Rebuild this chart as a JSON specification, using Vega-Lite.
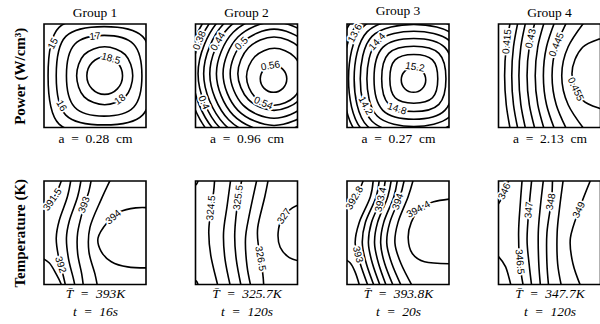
{
  "$schema": "https://vega.github.io/schema/vega-lite/v6.json",
  "padding": {"left": 11, "top": 3, "right": 0, "bottom": 0},
  "config": {
    "view": {"stroke": "black", "strokeWidth": 1.6},
    "axis": {"labels": false, "ticks": false, "domain": false, "grid": false, "titleFont": "Liberation Serif", "titleFontSize": 13.5, "titleFontWeight": "normal", "titleColor": "black", "titlePadding": 4},
    "title": {"font": "Liberation Serif", "fontSize": 13.5, "fontWeight": "normal", "color": "black", "offset": 4.5},
    "text": {"font": "Liberation Sans", "fontSize": 10, "align": "center", "baseline": "middle"},
    "line": {"color": "black", "strokeWidth": 1.6}
  },
  "datasets": {
    "c": [
      {"p":"a1","k":"18.5","s":"r","i":0,"x":0.77,"y":0.5},{"p":"a1","k":"18.5","s":"r","i":1,"x":0.719,"y":0.627},{"p":"a1","k":"18.5","s":"r","i":2,"x":0.595,"y":0.68},{"p":"a1","k":"18.5","s":"r","i":3,"x":0.471,"y":0.627},{"p":"a1","k":"18.5","s":"r","i":4,"x":0.42,"y":0.5},{"p":"a1","k":"18.5","s":"r","i":5,"x":0.471,"y":0.373},{"p":"a1","k":"18.5","s":"r","i":6,"x":0.595,"y":0.32},{"p":"a1","k":"18.5","s":"r","i":7,"x":0.719,"y":0.373},
      {"p":"a1","k":"18","s":"r","i":0,"x":0.87,"y":0.5},{"p":"a1","k":"18","s":"r","i":1,"x":0.796,"y":0.704},{"p":"a1","k":"18","s":"r","i":2,"x":0.595,"y":0.78},{"p":"a1","k":"18","s":"r","i":3,"x":0.394,"y":0.704},{"p":"a1","k":"18","s":"r","i":4,"x":0.32,"y":0.5},{"p":"a1","k":"18","s":"r","i":5,"x":0.394,"y":0.296},{"p":"a1","k":"18","s":"r","i":6,"x":0.595,"y":0.22},{"p":"a1","k":"18","s":"r","i":7,"x":0.796,"y":0.296},
      {"p":"a1","k":"17","s":"r","i":0,"x":0.96,"y":0.5},{"p":"a1","k":"17","s":"r","i":1,"x":0.879,"y":0.804},{"p":"a1","k":"17","s":"r","i":2,"x":0.59,"y":0.89},{"p":"a1","k":"17","s":"r","i":3,"x":0.301,"y":0.804},{"p":"a1","k":"17","s":"r","i":4,"x":0.22,"y":0.5},{"p":"a1","k":"17","s":"r","i":5,"x":0.301,"y":0.196},{"p":"a1","k":"17","s":"r","i":6,"x":0.59,"y":0.11},{"p":"a1","k":"17","s":"r","i":7,"x":0.879,"y":0.196},
      {"p":"a1","k":"16","s":"r","i":0,"x":1.06,"y":0.5},{"p":"a1","k":"16","s":"r","i":1,"x":0.966,"y":0.88},{"p":"a1","k":"16","s":"r","i":2,"x":0.59,"y":0.975},{"p":"a1","k":"16","s":"r","i":3,"x":0.214,"y":0.88},{"p":"a1","k":"16","s":"r","i":4,"x":0.12,"y":0.5},{"p":"a1","k":"16","s":"r","i":5,"x":0.214,"y":0.12},{"p":"a1","k":"16","s":"r","i":6,"x":0.59,"y":0.025},{"p":"a1","k":"16","s":"r","i":7,"x":0.966,"y":0.12},
      {"p":"a1","k":"15","s":"r","i":0,"x":1.24,"y":0.5},{"p":"a1","k":"15","s":"r","i":1,"x":1.132,"y":0.967},{"p":"a1","k":"15","s":"r","i":2,"x":0.64,"y":1.07},{"p":"a1","k":"15","s":"r","i":3,"x":0.148,"y":0.967},{"p":"a1","k":"15","s":"r","i":4,"x":0.04,"y":0.5},{"p":"a1","k":"15","s":"r","i":5,"x":0.148,"y":0.033},{"p":"a1","k":"15","s":"r","i":6,"x":0.64,"y":-0.07},{"p":"a1","k":"15","s":"r","i":7,"x":1.132,"y":0.033},

      {"p":"a2","k":"0.56","s":"r","i":0,"x":0.895,"y":0.47},{"p":"a2","k":"0.56","s":"r","i":1,"x":0.857,"y":0.562},{"p":"a2","k":"0.56","s":"r","i":2,"x":0.765,"y":0.6},{"p":"a2","k":"0.56","s":"r","i":3,"x":0.673,"y":0.562},{"p":"a2","k":"0.56","s":"r","i":4,"x":0.635,"y":0.47},{"p":"a2","k":"0.56","s":"r","i":5,"x":0.673,"y":0.378},{"p":"a2","k":"0.56","s":"r","i":6,"x":0.765,"y":0.34},{"p":"a2","k":"0.56","s":"r","i":7,"x":0.857,"y":0.378},
      {"p":"a2","k":"0.54","s":"r","i":0,"x":1.05,"y":0.49},{"p":"a2","k":"0.54","s":"r","i":1,"x":0.969,"y":0.684},{"p":"a2","k":"0.54","s":"r","i":2,"x":0.775,"y":0.765},{"p":"a2","k":"0.54","s":"r","i":3,"x":0.581,"y":0.684},{"p":"a2","k":"0.54","s":"r","i":4,"x":0.5,"y":0.49},{"p":"a2","k":"0.54","s":"r","i":5,"x":0.581,"y":0.296},{"p":"a2","k":"0.54","s":"r","i":6,"x":0.775,"y":0.215},{"p":"a2","k":"0.54","s":"r","i":7,"x":0.969,"y":0.296},
      {"p":"a2","k":"0.52","s":"r","i":0,"x":1.125,"y":0.52},{"p":"a2","k":"0.52","s":"r","i":1,"x":1.021,"y":0.771},{"p":"a2","k":"0.52","s":"r","i":2,"x":0.77,"y":0.875},{"p":"a2","k":"0.52","s":"r","i":3,"x":0.519,"y":0.771},{"p":"a2","k":"0.52","s":"r","i":4,"x":0.415,"y":0.52},{"p":"a2","k":"0.52","s":"r","i":5,"x":0.519,"y":0.269},{"p":"a2","k":"0.52","s":"r","i":6,"x":0.77,"y":0.165},{"p":"a2","k":"0.52","s":"r","i":7,"x":1.021,"y":0.269},
      {"p":"a2","k":"0.50","s":"r","i":0,"x":1.2,"y":0.52},{"p":"a2","k":"0.50","s":"r","i":1,"x":1.074,"y":0.824},{"p":"a2","k":"0.50","s":"r","i":2,"x":0.77,"y":0.95},{"p":"a2","k":"0.50","s":"r","i":3,"x":0.466,"y":0.824},{"p":"a2","k":"0.50","s":"r","i":4,"x":0.34,"y":0.52},{"p":"a2","k":"0.50","s":"r","i":5,"x":0.466,"y":0.216},{"p":"a2","k":"0.50","s":"r","i":6,"x":0.77,"y":0.09},{"p":"a2","k":"0.50","s":"r","i":7,"x":1.074,"y":0.216},
      {"p":"a2","k":"0.48","s":"r","i":0,"x":1.27,"y":0.52},{"p":"a2","k":"0.48","s":"r","i":1,"x":1.124,"y":0.874},{"p":"a2","k":"0.48","s":"r","i":2,"x":0.77,"y":1.02},{"p":"a2","k":"0.48","s":"r","i":3,"x":0.416,"y":0.874},{"p":"a2","k":"0.48","s":"r","i":4,"x":0.27,"y":0.52},{"p":"a2","k":"0.48","s":"r","i":5,"x":0.416,"y":0.166},{"p":"a2","k":"0.48","s":"r","i":6,"x":0.77,"y":0.02},{"p":"a2","k":"0.48","s":"r","i":7,"x":1.124,"y":0.166},
      {"p":"a2","k":"0.46","s":"r","i":0,"x":1.335,"y":0.52},{"p":"a2","k":"0.46","s":"r","i":1,"x":1.17,"y":0.92},{"p":"a2","k":"0.46","s":"r","i":2,"x":0.77,"y":1.085},{"p":"a2","k":"0.46","s":"r","i":3,"x":0.37,"y":0.92},{"p":"a2","k":"0.46","s":"r","i":4,"x":0.205,"y":0.52},{"p":"a2","k":"0.46","s":"r","i":5,"x":0.37,"y":0.12},{"p":"a2","k":"0.46","s":"r","i":6,"x":0.77,"y":-0.045},{"p":"a2","k":"0.46","s":"r","i":7,"x":1.17,"y":0.12},
      {"p":"a2","k":"0.44","s":"r","i":0,"x":1.4,"y":0.52},{"p":"a2","k":"0.44","s":"r","i":1,"x":1.215,"y":0.965},{"p":"a2","k":"0.44","s":"r","i":2,"x":0.77,"y":1.15},{"p":"a2","k":"0.44","s":"r","i":3,"x":0.325,"y":0.965},{"p":"a2","k":"0.44","s":"r","i":4,"x":0.14,"y":0.52},{"p":"a2","k":"0.44","s":"r","i":5,"x":0.325,"y":0.075},{"p":"a2","k":"0.44","s":"r","i":6,"x":0.77,"y":-0.11},{"p":"a2","k":"0.44","s":"r","i":7,"x":1.215,"y":0.075},
      {"p":"a2","k":"0.42","s":"r","i":0,"x":1.46,"y":0.52},{"p":"a2","k":"0.42","s":"r","i":1,"x":1.258,"y":1.008},{"p":"a2","k":"0.42","s":"r","i":2,"x":0.77,"y":1.21},{"p":"a2","k":"0.42","s":"r","i":3,"x":0.282,"y":1.008},{"p":"a2","k":"0.42","s":"r","i":4,"x":0.08,"y":0.52},{"p":"a2","k":"0.42","s":"r","i":5,"x":0.282,"y":0.032},{"p":"a2","k":"0.42","s":"r","i":6,"x":0.77,"y":-0.17},{"p":"a2","k":"0.42","s":"r","i":7,"x":1.258,"y":0.032},
      {"p":"a2","k":"0.40","s":"r","i":0,"x":1.515,"y":0.52},{"p":"a2","k":"0.40","s":"r","i":1,"x":1.297,"y":1.047},{"p":"a2","k":"0.40","s":"r","i":2,"x":0.77,"y":1.265},{"p":"a2","k":"0.40","s":"r","i":3,"x":0.243,"y":1.047},{"p":"a2","k":"0.40","s":"r","i":4,"x":0.025,"y":0.52},{"p":"a2","k":"0.40","s":"r","i":5,"x":0.243,"y":-0.007},{"p":"a2","k":"0.40","s":"r","i":6,"x":0.77,"y":-0.225},{"p":"a2","k":"0.40","s":"r","i":7,"x":1.297,"y":-0.007},
      {"p":"a2","k":"0.38","s":"r","i":0,"x":1.57,"y":0.52},{"p":"a2","k":"0.38","s":"r","i":1,"x":1.336,"y":1.086},{"p":"a2","k":"0.38","s":"r","i":2,"x":0.77,"y":1.32},{"p":"a2","k":"0.38","s":"r","i":3,"x":0.204,"y":1.086},{"p":"a2","k":"0.38","s":"r","i":4,"x":-0.03,"y":0.52},{"p":"a2","k":"0.38","s":"r","i":5,"x":0.204,"y":-0.046},{"p":"a2","k":"0.38","s":"r","i":6,"x":0.77,"y":-0.28},{"p":"a2","k":"0.38","s":"r","i":7,"x":1.336,"y":-0.046},
      {"p":"a2","k":"0.36","s":"r","i":0,"x":1.625,"y":0.52},{"p":"a2","k":"0.36","s":"r","i":1,"x":1.375,"y":1.125},{"p":"a2","k":"0.36","s":"r","i":2,"x":0.77,"y":1.375},{"p":"a2","k":"0.36","s":"r","i":3,"x":0.165,"y":1.125},{"p":"a2","k":"0.36","s":"r","i":4,"x":-0.085,"y":0.52},{"p":"a2","k":"0.36","s":"r","i":5,"x":0.165,"y":-0.085},{"p":"a2","k":"0.36","s":"r","i":6,"x":0.77,"y":-0.335},{"p":"a2","k":"0.36","s":"r","i":7,"x":1.375,"y":-0.085},

      {"p":"a3","k":"15.2","s":"r","i":0,"x":0.772,"y":0.46},{"p":"a3","k":"15.2","s":"r","i":1,"x":0.737,"y":0.545},{"p":"a3","k":"15.2","s":"r","i":2,"x":0.652,"y":0.58},{"p":"a3","k":"15.2","s":"r","i":3,"x":0.567,"y":0.545},{"p":"a3","k":"15.2","s":"r","i":4,"x":0.532,"y":0.46},{"p":"a3","k":"15.2","s":"r","i":5,"x":0.567,"y":0.375},{"p":"a3","k":"15.2","s":"r","i":6,"x":0.652,"y":0.34},{"p":"a3","k":"15.2","s":"r","i":7,"x":0.737,"y":0.375},
      {"p":"a3","k":"15.0","s":"r","i":0,"x":0.89,"y":0.47},{"p":"a3","k":"15.0","s":"r","i":1,"x":0.838,"y":0.653},{"p":"a3","k":"15.0","s":"r","i":2,"x":0.655,"y":0.705},{"p":"a3","k":"15.0","s":"r","i":3,"x":0.472,"y":0.653},{"p":"a3","k":"15.0","s":"r","i":4,"x":0.42,"y":0.47},{"p":"a3","k":"15.0","s":"r","i":5,"x":0.472,"y":0.287},{"p":"a3","k":"15.0","s":"r","i":6,"x":0.655,"y":0.235},{"p":"a3","k":"15.0","s":"r","i":7,"x":0.838,"y":0.287},
      {"p":"a3","k":"14.8","s":"r","i":0,"x":0.97,"y":0.47},{"p":"a3","k":"14.8","s":"r","i":1,"x":0.901,"y":0.716},{"p":"a3","k":"14.8","s":"r","i":2,"x":0.655,"y":0.785},{"p":"a3","k":"14.8","s":"r","i":3,"x":0.409,"y":0.716},{"p":"a3","k":"14.8","s":"r","i":4,"x":0.34,"y":0.47},{"p":"a3","k":"14.8","s":"r","i":5,"x":0.409,"y":0.224},{"p":"a3","k":"14.8","s":"r","i":6,"x":0.655,"y":0.155},{"p":"a3","k":"14.8","s":"r","i":7,"x":0.901,"y":0.224},
      {"p":"a3","k":"14.6","s":"r","i":0,"x":1.045,"y":0.47},{"p":"a3","k":"14.6","s":"r","i":1,"x":0.959,"y":0.774},{"p":"a3","k":"14.6","s":"r","i":2,"x":0.655,"y":0.86},{"p":"a3","k":"14.6","s":"r","i":3,"x":0.351,"y":0.774},{"p":"a3","k":"14.6","s":"r","i":4,"x":0.265,"y":0.47},{"p":"a3","k":"14.6","s":"r","i":5,"x":0.351,"y":0.166},{"p":"a3","k":"14.6","s":"r","i":6,"x":0.655,"y":0.08},{"p":"a3","k":"14.6","s":"r","i":7,"x":0.959,"y":0.166},
      {"p":"a3","k":"14.4","s":"r","i":0,"x":1.115,"y":0.47},{"p":"a3","k":"14.4","s":"r","i":1,"x":1.014,"y":0.829},{"p":"a3","k":"14.4","s":"r","i":2,"x":0.655,"y":0.93},{"p":"a3","k":"14.4","s":"r","i":3,"x":0.296,"y":0.829},{"p":"a3","k":"14.4","s":"r","i":4,"x":0.195,"y":0.47},{"p":"a3","k":"14.4","s":"r","i":5,"x":0.296,"y":0.111},{"p":"a3","k":"14.4","s":"r","i":6,"x":0.655,"y":0.01},{"p":"a3","k":"14.4","s":"r","i":7,"x":1.014,"y":0.111},
      {"p":"a3","k":"14.2","s":"r","i":0,"x":1.18,"y":0.47},{"p":"a3","k":"14.2","s":"r","i":1,"x":1.065,"y":0.88},{"p":"a3","k":"14.2","s":"r","i":2,"x":0.655,"y":0.995},{"p":"a3","k":"14.2","s":"r","i":3,"x":0.245,"y":0.88},{"p":"a3","k":"14.2","s":"r","i":4,"x":0.13,"y":0.47},{"p":"a3","k":"14.2","s":"r","i":5,"x":0.245,"y":0.06},{"p":"a3","k":"14.2","s":"r","i":6,"x":0.655,"y":-0.055},{"p":"a3","k":"14.2","s":"r","i":7,"x":1.065,"y":0.06},
      {"p":"a3","k":"14.0","s":"r","i":0,"x":1.24,"y":0.47},{"p":"a3","k":"14.0","s":"r","i":1,"x":1.111,"y":0.926},{"p":"a3","k":"14.0","s":"r","i":2,"x":0.655,"y":1.055},{"p":"a3","k":"14.0","s":"r","i":3,"x":0.199,"y":0.926},{"p":"a3","k":"14.0","s":"r","i":4,"x":0.07,"y":0.47},{"p":"a3","k":"14.0","s":"r","i":5,"x":0.199,"y":0.014},{"p":"a3","k":"14.0","s":"r","i":6,"x":0.655,"y":-0.115},{"p":"a3","k":"14.0","s":"r","i":7,"x":1.111,"y":0.014},
      {"p":"a3","k":"13.8","s":"r","i":0,"x":1.295,"y":0.47},{"p":"a3","k":"13.8","s":"r","i":1,"x":1.155,"y":0.97},{"p":"a3","k":"13.8","s":"r","i":2,"x":0.655,"y":1.11},{"p":"a3","k":"13.8","s":"r","i":3,"x":0.155,"y":0.97},{"p":"a3","k":"13.8","s":"r","i":4,"x":0.015,"y":0.47},{"p":"a3","k":"13.8","s":"r","i":5,"x":0.155,"y":-0.03},{"p":"a3","k":"13.8","s":"r","i":6,"x":0.655,"y":-0.17},{"p":"a3","k":"13.8","s":"r","i":7,"x":1.155,"y":-0.03},
      {"p":"a3","k":"13.6","s":"r","i":0,"x":1.35,"y":0.47},{"p":"a3","k":"13.6","s":"r","i":1,"x":1.197,"y":1.012},{"p":"a3","k":"13.6","s":"r","i":2,"x":0.655,"y":1.165},{"p":"a3","k":"13.6","s":"r","i":3,"x":0.113,"y":1.012},{"p":"a3","k":"13.6","s":"r","i":4,"x":-0.04,"y":0.47},{"p":"a3","k":"13.6","s":"r","i":5,"x":0.113,"y":-0.072},{"p":"a3","k":"13.6","s":"r","i":6,"x":0.655,"y":-0.225},{"p":"a3","k":"13.6","s":"r","i":7,"x":1.197,"y":-0.072},
      {"p":"a3","k":"13.4","s":"r","i":0,"x":1.405,"y":0.47},{"p":"a3","k":"13.4","s":"r","i":1,"x":1.24,"y":1.055},{"p":"a3","k":"13.4","s":"r","i":2,"x":0.655,"y":1.22},{"p":"a3","k":"13.4","s":"r","i":3,"x":0.07,"y":1.055},{"p":"a3","k":"13.4","s":"r","i":4,"x":-0.095,"y":0.47},{"p":"a3","k":"13.4","s":"r","i":5,"x":0.07,"y":-0.115},{"p":"a3","k":"13.4","s":"r","i":6,"x":0.655,"y":-0.28},{"p":"a3","k":"13.4","s":"r","i":7,"x":1.24,"y":-0.115},
      {"p":"a3","k":"13.2","s":"r","i":0,"x":1.455,"y":0.47},{"p":"a3","k":"13.2","s":"r","i":1,"x":1.279,"y":1.094},{"p":"a3","k":"13.2","s":"r","i":2,"x":0.655,"y":1.27},{"p":"a3","k":"13.2","s":"r","i":3,"x":0.031,"y":1.094},{"p":"a3","k":"13.2","s":"r","i":4,"x":-0.145,"y":0.47},{"p":"a3","k":"13.2","s":"r","i":5,"x":0.031,"y":-0.154},{"p":"a3","k":"13.2","s":"r","i":6,"x":0.655,"y":-0.33},{"p":"a3","k":"13.2","s":"r","i":7,"x":1.279,"y":-0.154},

      {"p":"a4","k":"0.415","s":"o","i":0,"x":0.127,"y":1.08},{"p":"a4","k":"0.415","s":"o","i":1,"x":0.076,"y":0.78},{"p":"a4","k":"0.415","s":"o","i":2,"x":0.06,"y":0.5},{"p":"a4","k":"0.415","s":"o","i":3,"x":0.076,"y":0.22},{"p":"a4","k":"0.415","s":"o","i":4,"x":0.127,"y":-0.08},
      {"p":"a4","k":"0.42","s":"o","i":0,"x":0.204,"y":1.08},{"p":"a4","k":"0.42","s":"o","i":1,"x":0.147,"y":0.78},{"p":"a4","k":"0.42","s":"o","i":2,"x":0.13,"y":0.5},{"p":"a4","k":"0.42","s":"o","i":3,"x":0.147,"y":0.22},{"p":"a4","k":"0.42","s":"o","i":4,"x":0.204,"y":-0.08},
      {"p":"a4","k":"0.425","s":"o","i":0,"x":0.281,"y":1.08},{"p":"a4","k":"0.425","s":"o","i":1,"x":0.219,"y":0.78},{"p":"a4","k":"0.425","s":"o","i":2,"x":0.2,"y":0.5},{"p":"a4","k":"0.425","s":"o","i":3,"x":0.219,"y":0.22},{"p":"a4","k":"0.425","s":"o","i":4,"x":0.281,"y":-0.08},
      {"p":"a4","k":"0.43","s":"o","i":0,"x":0.375,"y":1.08},{"p":"a4","k":"0.43","s":"o","i":1,"x":0.302,"y":0.78},{"p":"a4","k":"0.43","s":"o","i":2,"x":0.28,"y":0.5},{"p":"a4","k":"0.43","s":"o","i":3,"x":0.302,"y":0.22},{"p":"a4","k":"0.43","s":"o","i":4,"x":0.375,"y":-0.08},
      {"p":"a4","k":"0.435","s":"o","i":0,"x":0.468,"y":1.08},{"p":"a4","k":"0.435","s":"o","i":1,"x":0.385,"y":0.78},{"p":"a4","k":"0.435","s":"o","i":2,"x":0.36,"y":0.5},{"p":"a4","k":"0.435","s":"o","i":3,"x":0.385,"y":0.22},{"p":"a4","k":"0.435","s":"o","i":4,"x":0.468,"y":-0.08},
      {"p":"a4","k":"0.44","s":"o","i":0,"x":0.575,"y":1.08},{"p":"a4","k":"0.44","s":"o","i":1,"x":0.471,"y":0.78},{"p":"a4","k":"0.44","s":"o","i":2,"x":0.44,"y":0.5},{"p":"a4","k":"0.44","s":"o","i":3,"x":0.471,"y":0.22},{"p":"a4","k":"0.44","s":"o","i":4,"x":0.575,"y":-0.08},
      {"p":"a4","k":"0.445","s":"o","i":0,"x":0.7,"y":1.08},{"p":"a4","k":"0.445","s":"o","i":1,"x":0.566,"y":0.78},{"p":"a4","k":"0.445","s":"o","i":2,"x":0.525,"y":0.5},{"p":"a4","k":"0.445","s":"o","i":3,"x":0.566,"y":0.22},{"p":"a4","k":"0.445","s":"o","i":4,"x":0.7,"y":-0.08},
      {"p":"a4","k":"0.45","s":"o","i":0,"x":0.89,"y":1.08},{"p":"a4","k":"0.45","s":"o","i":1,"x":0.683,"y":0.78},{"p":"a4","k":"0.45","s":"o","i":2,"x":0.62,"y":0.5},{"p":"a4","k":"0.45","s":"o","i":3,"x":0.683,"y":0.22},{"p":"a4","k":"0.45","s":"o","i":4,"x":0.89,"y":-0.08},
      {"p":"a4","k":"0.455","s":"o","i":0,"x":1.08,"y":0.88},{"p":"a4","k":"0.455","s":"o","i":1,"x":0.825,"y":0.775},{"p":"a4","k":"0.455","s":"o","i":2,"x":0.72,"y":0.52},{"p":"a4","k":"0.455","s":"o","i":3,"x":0.825,"y":0.265},{"p":"a4","k":"0.455","s":"o","i":4,"x":1.08,"y":0.16},

      {"p":"b1","k":"391.5a","s":"o","i":0,"x":-0.05,"y":0.7},{"p":"b1","k":"391.5a","s":"o","i":1,"x":0.03,"y":0.76},{"p":"b1","k":"391.5a","s":"o","i":2,"x":0.11,"y":0.86},{"p":"b1","k":"391.5a","s":"o","i":3,"x":0.17,"y":1.0},{"p":"b1","k":"391.5a","s":"o","i":4,"x":0.19,"y":1.05},
      {"p":"b1","k":"391.5b","s":"o","i":0,"x":-0.05,"y":0.27},{"p":"b1","k":"391.5b","s":"o","i":1,"x":0.05,"y":0.21},{"p":"b1","k":"391.5b","s":"o","i":2,"x":0.12,"y":0.1},{"p":"b1","k":"391.5b","s":"o","i":3,"x":0.17,"y":0.0},{"p":"b1","k":"391.5b","s":"o","i":4,"x":0.18,"y":-0.05},
      {"p":"b1","k":"392","s":"o","i":0,"x":0.27,"y":1.05},{"p":"b1","k":"392","s":"o","i":1,"x":0.23,"y":0.85},{"p":"b1","k":"392","s":"o","i":2,"x":0.15,"y":0.62},{"p":"b1","k":"392","s":"o","i":3,"x":0.12,"y":0.45},{"p":"b1","k":"392","s":"o","i":4,"x":0.14,"y":0.28},{"p":"b1","k":"392","s":"o","i":5,"x":0.19,"y":0.08},{"p":"b1","k":"392","s":"o","i":6,"x":0.22,"y":-0.05},
      {"p":"b1","k":"392.5","s":"o","i":0,"x":0.37,"y":1.05},{"p":"b1","k":"392.5","s":"o","i":1,"x":0.33,"y":0.85},{"p":"b1","k":"392.5","s":"o","i":2,"x":0.25,"y":0.62},{"p":"b1","k":"392.5","s":"o","i":3,"x":0.22,"y":0.45},{"p":"b1","k":"392.5","s":"o","i":4,"x":0.24,"y":0.25},{"p":"b1","k":"392.5","s":"o","i":5,"x":0.29,"y":0.05},{"p":"b1","k":"392.5","s":"o","i":6,"x":0.31,"y":-0.05},
      {"p":"b1","k":"393","s":"o","i":0,"x":0.47,"y":1.05},{"p":"b1","k":"393","s":"o","i":1,"x":0.44,"y":0.9},{"p":"b1","k":"393","s":"o","i":2,"x":0.39,"y":0.75},{"p":"b1","k":"393","s":"o","i":3,"x":0.33,"y":0.5},{"p":"b1","k":"393","s":"o","i":4,"x":0.33,"y":0.3},{"p":"b1","k":"393","s":"o","i":5,"x":0.37,"y":0.1},{"p":"b1","k":"393","s":"o","i":6,"x":0.39,"y":-0.05},
      {"p":"b1","k":"393.5","s":"o","i":0,"x":0.67,"y":1.05},{"p":"b1","k":"393.5","s":"o","i":1,"x":0.56,"y":0.82},{"p":"b1","k":"393.5","s":"o","i":2,"x":0.45,"y":0.55},{"p":"b1","k":"393.5","s":"o","i":3,"x":0.44,"y":0.32},{"p":"b1","k":"393.5","s":"o","i":4,"x":0.5,"y":0.1},{"p":"b1","k":"393.5","s":"o","i":5,"x":0.53,"y":-0.05},
      {"p":"b1","k":"394","s":"o","i":0,"x":1.05,"y":0.74},{"p":"b1","k":"394","s":"o","i":1,"x":0.9,"y":0.74},{"p":"b1","k":"394","s":"o","i":2,"x":0.74,"y":0.7},{"p":"b1","k":"394","s":"o","i":3,"x":0.62,"y":0.6},{"p":"b1","k":"394","s":"o","i":4,"x":0.53,"y":0.45},{"p":"b1","k":"394","s":"o","i":5,"x":0.56,"y":0.32},{"p":"b1","k":"394","s":"o","i":6,"x":0.66,"y":0.22},{"p":"b1","k":"394","s":"o","i":7,"x":0.82,"y":0.17},{"p":"b1","k":"394","s":"o","i":8,"x":1.05,"y":0.16},

      {"p":"b2","k":"324a","s":"o","i":0,"x":-0.02,"y":0.955},{"p":"b2","k":"324a","s":"o","i":1,"x":0.01,"y":0.97},{"p":"b2","k":"324a","s":"o","i":2,"x":0.025,"y":1.0},{"p":"b2","k":"324a","s":"o","i":3,"x":0.03,"y":1.02},
      {"p":"b2","k":"324b","s":"o","i":0,"x":-0.02,"y":0.045},{"p":"b2","k":"324b","s":"o","i":1,"x":0.01,"y":0.03},{"p":"b2","k":"324b","s":"o","i":2,"x":0.025,"y":0.0},{"p":"b2","k":"324b","s":"o","i":3,"x":0.03,"y":-0.02},
      {"p":"b2","k":"324.5","s":"o","i":0,"x":0.19,"y":1.05},{"p":"b2","k":"324.5","s":"o","i":1,"x":0.178,"y":0.9},{"p":"b2","k":"324.5","s":"o","i":2,"x":0.148,"y":0.7},{"p":"b2","k":"324.5","s":"o","i":3,"x":0.13,"y":0.5},{"p":"b2","k":"324.5","s":"o","i":4,"x":0.15,"y":0.28},{"p":"b2","k":"324.5","s":"o","i":5,"x":0.216,"y":0.0},{"p":"b2","k":"324.5","s":"o","i":6,"x":0.23,"y":-0.05},
      {"p":"b2","k":"325","s":"o","i":0,"x":0.35,"y":1.05},{"p":"b2","k":"325","s":"o","i":1,"x":0.31,"y":0.76},{"p":"b2","k":"325","s":"o","i":2,"x":0.275,"y":0.5},{"p":"b2","k":"325","s":"o","i":3,"x":0.29,"y":0.24},{"p":"b2","k":"325","s":"o","i":4,"x":0.35,"y":-0.05},
      {"p":"b2","k":"325.5","s":"o","i":0,"x":0.465,"y":1.05},{"p":"b2","k":"325.5","s":"o","i":1,"x":0.42,"y":0.84},{"p":"b2","k":"325.5","s":"o","i":2,"x":0.385,"y":0.5},{"p":"b2","k":"325.5","s":"o","i":3,"x":0.4,"y":0.24},{"p":"b2","k":"325.5","s":"o","i":4,"x":0.455,"y":-0.05},
      {"p":"b2","k":"326","s":"o","i":0,"x":0.61,"y":1.05},{"p":"b2","k":"326","s":"o","i":1,"x":0.525,"y":0.66},{"p":"b2","k":"326","s":"o","i":2,"x":0.49,"y":0.44},{"p":"b2","k":"326","s":"o","i":3,"x":0.505,"y":0.18},{"p":"b2","k":"326","s":"o","i":4,"x":0.55,"y":-0.05},
      {"p":"b2","k":"326.5","s":"o","i":0,"x":0.72,"y":1.05},{"p":"b2","k":"326.5","s":"o","i":1,"x":0.68,"y":0.85},{"p":"b2","k":"326.5","s":"o","i":2,"x":0.61,"y":0.55},{"p":"b2","k":"326.5","s":"o","i":3,"x":0.62,"y":0.35},{"p":"b2","k":"326.5","s":"o","i":4,"x":0.66,"y":0.1},{"p":"b2","k":"326.5","s":"o","i":5,"x":0.67,"y":-0.05},
      {"p":"b2","k":"327","s":"o","i":0,"x":1.05,"y":0.78},{"p":"b2","k":"327","s":"o","i":1,"x":0.95,"y":0.74},{"p":"b2","k":"327","s":"o","i":2,"x":0.85,"y":0.64},{"p":"b2","k":"327","s":"o","i":3,"x":0.81,"y":0.5},{"p":"b2","k":"327","s":"o","i":4,"x":0.83,"y":0.36},{"p":"b2","k":"327","s":"o","i":5,"x":0.92,"y":0.26},{"p":"b2","k":"327","s":"o","i":6,"x":1.05,"y":0.22},

      {"p":"b3","k":"392.8a","s":"o","i":0,"x":-0.05,"y":0.7},{"p":"b3","k":"392.8a","s":"o","i":1,"x":0.02,"y":0.76},{"p":"b3","k":"392.8a","s":"o","i":2,"x":0.1,"y":0.87},{"p":"b3","k":"392.8a","s":"o","i":3,"x":0.15,"y":0.98},{"p":"b3","k":"392.8a","s":"o","i":4,"x":0.17,"y":1.05},
      {"p":"b3","k":"392.8b","s":"o","i":0,"x":-0.05,"y":0.26},{"p":"b3","k":"392.8b","s":"o","i":1,"x":0.03,"y":0.21},{"p":"b3","k":"392.8b","s":"o","i":2,"x":0.08,"y":0.12},{"p":"b3","k":"392.8b","s":"o","i":3,"x":0.12,"y":0.0},{"p":"b3","k":"392.8b","s":"o","i":4,"x":0.13,"y":-0.05},
      {"p":"b3","k":"393","s":"o","i":0,"x":0.26,"y":1.05},{"p":"b3","k":"393","s":"o","i":1,"x":0.23,"y":0.85},{"p":"b3","k":"393","s":"o","i":2,"x":0.12,"y":0.6},{"p":"b3","k":"393","s":"o","i":3,"x":0.08,"y":0.4},{"p":"b3","k":"393","s":"o","i":4,"x":0.13,"y":0.2},{"p":"b3","k":"393","s":"o","i":5,"x":0.22,"y":-0.05},
      {"p":"b3","k":"393.2","s":"o","i":0,"x":0.32,"y":1.05},{"p":"b3","k":"393.2","s":"o","i":1,"x":0.287,"y":0.85},{"p":"b3","k":"393.2","s":"o","i":2,"x":0.18,"y":0.6},{"p":"b3","k":"393.2","s":"o","i":3,"x":0.15,"y":0.4},{"p":"b3","k":"393.2","s":"o","i":4,"x":0.19,"y":0.2},{"p":"b3","k":"393.2","s":"o","i":5,"x":0.28,"y":-0.05},
      {"p":"b3","k":"393.4","s":"o","i":0,"x":0.38,"y":1.05},{"p":"b3","k":"393.4","s":"o","i":1,"x":0.345,"y":0.85},{"p":"b3","k":"393.4","s":"o","i":2,"x":0.24,"y":0.6},{"p":"b3","k":"393.4","s":"o","i":3,"x":0.21,"y":0.4},{"p":"b3","k":"393.4","s":"o","i":4,"x":0.25,"y":0.2},{"p":"b3","k":"393.4","s":"o","i":5,"x":0.34,"y":-0.05},
      {"p":"b3","k":"393.6","s":"o","i":0,"x":0.44,"y":1.05},{"p":"b3","k":"393.6","s":"o","i":1,"x":0.4,"y":0.85},{"p":"b3","k":"393.6","s":"o","i":2,"x":0.3,"y":0.6},{"p":"b3","k":"393.6","s":"o","i":3,"x":0.27,"y":0.4},{"p":"b3","k":"393.6","s":"o","i":4,"x":0.31,"y":0.2},{"p":"b3","k":"393.6","s":"o","i":5,"x":0.4,"y":-0.05},
      {"p":"b3","k":"393.8","s":"o","i":0,"x":0.5,"y":1.05},{"p":"b3","k":"393.8","s":"o","i":1,"x":0.46,"y":0.85},{"p":"b3","k":"393.8","s":"o","i":2,"x":0.36,"y":0.6},{"p":"b3","k":"393.8","s":"o","i":3,"x":0.33,"y":0.4},{"p":"b3","k":"393.8","s":"o","i":4,"x":0.37,"y":0.2},{"p":"b3","k":"393.8","s":"o","i":5,"x":0.47,"y":-0.05},
      {"p":"b3","k":"394","s":"o","i":0,"x":0.57,"y":1.05},{"p":"b3","k":"394","s":"o","i":1,"x":0.52,"y":0.85},{"p":"b3","k":"394","s":"o","i":2,"x":0.42,"y":0.6},{"p":"b3","k":"394","s":"o","i":3,"x":0.39,"y":0.4},{"p":"b3","k":"394","s":"o","i":4,"x":0.44,"y":0.2},{"p":"b3","k":"394","s":"o","i":5,"x":0.55,"y":-0.05},
      {"p":"b3","k":"394.2","s":"o","i":0,"x":0.66,"y":1.05},{"p":"b3","k":"394.2","s":"o","i":1,"x":0.6,"y":0.85},{"p":"b3","k":"394.2","s":"o","i":2,"x":0.5,"y":0.6},{"p":"b3","k":"394.2","s":"o","i":3,"x":0.47,"y":0.4},{"p":"b3","k":"394.2","s":"o","i":4,"x":0.53,"y":0.2},{"p":"b3","k":"394.2","s":"o","i":5,"x":0.66,"y":-0.05},
      {"p":"b3","k":"394.4","s":"o","i":0,"x":1.05,"y":0.83},{"p":"b3","k":"394.4","s":"o","i":1,"x":0.85,"y":0.8},{"p":"b3","k":"394.4","s":"o","i":2,"x":0.72,"y":0.74},{"p":"b3","k":"394.4","s":"o","i":3,"x":0.63,"y":0.6},{"p":"b3","k":"394.4","s":"o","i":4,"x":0.6,"y":0.45},{"p":"b3","k":"394.4","s":"o","i":5,"x":0.64,"y":0.3},{"p":"b3","k":"394.4","s":"o","i":6,"x":0.76,"y":0.22},{"p":"b3","k":"394.4","s":"o","i":7,"x":1.05,"y":0.2},

      {"p":"b4","k":"346a","s":"o","i":0,"x":-0.05,"y":0.74},{"p":"b4","k":"346a","s":"o","i":1,"x":0.0,"y":0.78},{"p":"b4","k":"346a","s":"o","i":2,"x":0.05,"y":0.87},{"p":"b4","k":"346a","s":"o","i":3,"x":0.1,"y":1.0},{"p":"b4","k":"346a","s":"o","i":4,"x":0.11,"y":1.05},
      {"p":"b4","k":"346b","s":"o","i":0,"x":-0.05,"y":0.3},{"p":"b4","k":"346b","s":"o","i":1,"x":0.0,"y":0.27},{"p":"b4","k":"346b","s":"o","i":2,"x":0.07,"y":0.17},{"p":"b4","k":"346b","s":"o","i":3,"x":0.12,"y":0.0},{"p":"b4","k":"346b","s":"o","i":4,"x":0.13,"y":-0.05},
      {"p":"b4","k":"346.5","s":"o","i":0,"x":0.235,"y":1.05},{"p":"b4","k":"346.5","s":"o","i":1,"x":0.215,"y":0.8},{"p":"b4","k":"346.5","s":"o","i":2,"x":0.197,"y":0.5},{"p":"b4","k":"346.5","s":"o","i":3,"x":0.21,"y":0.2},{"p":"b4","k":"346.5","s":"o","i":4,"x":0.25,"y":-0.05},
      {"p":"b4","k":"347","s":"o","i":0,"x":0.33,"y":1.05},{"p":"b4","k":"347","s":"o","i":1,"x":0.3,"y":0.75},{"p":"b4","k":"347","s":"o","i":2,"x":0.28,"y":0.44},{"p":"b4","k":"347","s":"o","i":3,"x":0.3,"y":0.2},{"p":"b4","k":"347","s":"o","i":4,"x":0.33,"y":-0.05},
      {"p":"b4","k":"347.5","s":"o","i":0,"x":0.445,"y":1.05},{"p":"b4","k":"347.5","s":"o","i":1,"x":0.41,"y":0.75},{"p":"b4","k":"347.5","s":"o","i":2,"x":0.39,"y":0.5},{"p":"b4","k":"347.5","s":"o","i":3,"x":0.395,"y":0.2},{"p":"b4","k":"347.5","s":"o","i":4,"x":0.415,"y":-0.05},
      {"p":"b4","k":"348","s":"o","i":0,"x":0.53,"y":1.05},{"p":"b4","k":"348","s":"o","i":1,"x":0.52,"y":0.82},{"p":"b4","k":"348","s":"o","i":2,"x":0.475,"y":0.5},{"p":"b4","k":"348","s":"o","i":3,"x":0.475,"y":0.2},{"p":"b4","k":"348","s":"o","i":4,"x":0.495,"y":-0.05},
      {"p":"b4","k":"348.5","s":"o","i":0,"x":0.64,"y":1.05},{"p":"b4","k":"348.5","s":"o","i":1,"x":0.6,"y":0.75},{"p":"b4","k":"348.5","s":"o","i":2,"x":0.575,"y":0.5},{"p":"b4","k":"348.5","s":"o","i":3,"x":0.58,"y":0.2},{"p":"b4","k":"348.5","s":"o","i":4,"x":0.625,"y":-0.05},
      {"p":"b4","k":"349","s":"o","i":0,"x":0.92,"y":1.05},{"p":"b4","k":"349","s":"o","i":1,"x":0.8,"y":0.75},{"p":"b4","k":"349","s":"o","i":2,"x":0.705,"y":0.45},{"p":"b4","k":"349","s":"o","i":3,"x":0.73,"y":0.2},{"p":"b4","k":"349","s":"o","i":4,"x":0.82,"y":-0.05}
    ],
    "l": [
      {"p":"a1","t":"15","x":0.09,"y":0.81,"a":-62},
      {"p":"a1","t":"16","x":0.17,"y":0.21,"a":60},
      {"p":"a1","t":"17","x":0.5,"y":0.88,"a":-5},
      {"p":"a1","t":"18","x":0.745,"y":0.27,"a":-35},
      {"p":"a1","t":"18.5","x":0.655,"y":0.665,"a":15},
      {"p":"a2","t":"0.38","x":0.04,"y":0.84,"a":-68},
      {"p":"a2","t":"0.44","x":0.221,"y":0.83,"a":-60},
      {"p":"a2","t":"0.5","x":0.452,"y":0.81,"a":-45},
      {"p":"a2","t":"0.56","x":0.735,"y":0.595,"a":-10},
      {"p":"a2","t":"0.54","x":0.665,"y":0.235,"a":23},
      {"p":"a2","t":"0.4","x":0.08,"y":0.24,"a":68},
      {"p":"a3","t":"13.6","x":0.08,"y":0.91,"a":-62},
      {"p":"a3","t":"14.4","x":0.296,"y":0.829,"a":-48},
      {"p":"a3","t":"15.2","x":0.665,"y":0.583,"a":10},
      {"p":"a3","t":"14.8","x":0.49,"y":0.18,"a":18},
      {"p":"a3","t":"14.2","x":0.18,"y":0.21,"a":62},
      {"p":"a4","t":"0.415","x":0.084,"y":0.83,"a":-85},
      {"p":"a4","t":"0.43","x":0.318,"y":0.86,"a":-78},
      {"p":"a4","t":"0.445","x":0.57,"y":0.8,"a":-68},
      {"p":"a4","t":"0.455","x":0.755,"y":0.37,"a":65},
      {"p":"b1","t":"391.5","x":0.085,"y":0.82,"a":-55},
      {"p":"b1","t":"392","x":0.162,"y":0.19,"a":72},
      {"p":"b1","t":"393","x":0.395,"y":0.77,"a":-70},
      {"p":"b1","t":"394","x":0.68,"y":0.65,"a":-40},
      {"p":"b2","t":"324.5","x":0.154,"y":0.74,"a":-85},
      {"p":"b2","t":"325.5","x":0.42,"y":0.84,"a":-83},
      {"p":"b2","t":"326.5","x":0.636,"y":0.25,"a":80},
      {"p":"b2","t":"327","x":0.87,"y":0.66,"a":-55},
      {"p":"b3","t":"392.8","x":0.075,"y":0.835,"a":-60},
      {"p":"b3","t":"393","x":0.105,"y":0.29,"a":75},
      {"p":"b3","t":"393.4","x":0.333,"y":0.82,"a":-78},
      {"p":"b3","t":"394","x":0.5,"y":0.8,"a":-72},
      {"p":"b3","t":"394.4","x":0.7,"y":0.725,"a":-28},
      {"p":"b4","t":"346","x":0.06,"y":0.9,"a":-65},
      {"p":"b4","t":"346.5","x":0.207,"y":0.22,"a":85},
      {"p":"b4","t":"347","x":0.298,"y":0.72,"a":-85},
      {"p":"b4","t":"348","x":0.515,"y":0.8,"a":-80},
      {"p":"b4","t":"349","x":0.79,"y":0.72,"a":-65}
    ]
  },
  "spacing": 31,
  "vconcat": [
    {
      "bounds": "flush",
      "spacing": 49.5,
      "hconcat": [
        {
          "width": 102, "height": 103.5, "title": "Group 1",
          "encoding": {
            "x": {"field": "x", "type": "quantitative", "scale": {"domain": [0, 1], "nice": false, "zero": false}, "axis": {"title": "a\u2002=\u20020.28\u2002cm"}},
            "y": {"field": "y", "type": "quantitative", "scale": {"domain": [0, 1], "nice": false, "zero": false}, "axis": {"title": "Power (W/cm³)", "titleFontWeight": "bold", "titleFontSize": 15, "titlePadding": 17}}
          },
          "layer": [
            {"data": {"name": "c"}, "transform": [{"filter": "datum.p == 'a1'"}], "mark": {"type": "line", "interpolate": "cardinal-closed", "clip": true}, "encoding": {"detail": {"field": "k"}, "order": {"field": "i", "type": "quantitative"}}},
            {"data": {"name": "l"}, "transform": [{"filter": "datum.p == 'a1'"}], "mark": {"type": "text", "fill": "white", "stroke": "white", "strokeWidth": 3.5, "strokeJoin": "round"}, "encoding": {"text": {"field": "t"}, "angle": {"field": "a", "type": "quantitative", "scale": null}}},
            {"data": {"name": "l"}, "transform": [{"filter": "datum.p == 'a1'"}], "mark": {"type": "text", "color": "black"}, "encoding": {"text": {"field": "t"}, "angle": {"field": "a", "type": "quantitative", "scale": null}}}
          ]
        },
        {
          "width": 102, "height": 103.5, "title": "Group 2",
          "encoding": {
            "x": {"field": "x", "type": "quantitative", "scale": {"domain": [0, 1], "nice": false, "zero": false}, "axis": {"title": "a\u2002=\u20020.96\u2002cm"}},
            "y": {"field": "y", "type": "quantitative", "scale": {"domain": [0, 1], "nice": false, "zero": false}, "axis": null}
          },
          "layer": [
            {"data": {"name": "c"}, "transform": [{"filter": "datum.p == 'a2'"}], "mark": {"type": "line", "interpolate": "cardinal-closed", "clip": true}, "encoding": {"detail": {"field": "k"}, "order": {"field": "i", "type": "quantitative"}}},
            {"data": {"name": "l"}, "transform": [{"filter": "datum.p == 'a2'"}], "mark": {"type": "text", "fill": "white", "stroke": "white", "strokeWidth": 3.5, "strokeJoin": "round"}, "encoding": {"text": {"field": "t"}, "angle": {"field": "a", "type": "quantitative", "scale": null}}},
            {"data": {"name": "l"}, "transform": [{"filter": "datum.p == 'a2'"}], "mark": {"type": "text", "color": "black"}, "encoding": {"text": {"field": "t"}, "angle": {"field": "a", "type": "quantitative", "scale": null}}}
          ]
        },
        {
          "width": 102, "height": 103.5, "title": "Group 3",
          "encoding": {
            "x": {"field": "x", "type": "quantitative", "scale": {"domain": [0, 1], "nice": false, "zero": false}, "axis": {"title": "a\u2002=\u20020.27\u2002cm"}},
            "y": {"field": "y", "type": "quantitative", "scale": {"domain": [0, 1], "nice": false, "zero": false}, "axis": null}
          },
          "layer": [
            {"data": {"name": "c"}, "transform": [{"filter": "datum.p == 'a3'"}], "mark": {"type": "line", "interpolate": "cardinal-closed", "clip": true}, "encoding": {"detail": {"field": "k"}, "order": {"field": "i", "type": "quantitative"}}},
            {"data": {"name": "l"}, "transform": [{"filter": "datum.p == 'a3'"}], "mark": {"type": "text", "fill": "white", "stroke": "white", "strokeWidth": 3.5, "strokeJoin": "round"}, "encoding": {"text": {"field": "t"}, "angle": {"field": "a", "type": "quantitative", "scale": null}}},
            {"data": {"name": "l"}, "transform": [{"filter": "datum.p == 'a3'"}], "mark": {"type": "text", "color": "black"}, "encoding": {"text": {"field": "t"}, "angle": {"field": "a", "type": "quantitative", "scale": null}}}
          ]
        },
        {
          "width": 102, "height": 103.5, "title": "Group 4",
          "encoding": {
            "x": {"field": "x", "type": "quantitative", "scale": {"domain": [0, 1], "nice": false, "zero": false}, "axis": {"title": "a\u2002=\u20022.13\u2002cm"}},
            "y": {"field": "y", "type": "quantitative", "scale": {"domain": [0, 1], "nice": false, "zero": false}, "axis": null}
          },
          "layer": [
            {"data": {"name": "c"}, "transform": [{"filter": "datum.p == 'a4'"}], "mark": {"type": "line", "interpolate": "cardinal", "clip": true}, "encoding": {"detail": {"field": "k"}, "order": {"field": "i", "type": "quantitative"}}},
            {"data": {"name": "l"}, "transform": [{"filter": "datum.p == 'a4'"}], "mark": {"type": "text", "fill": "white", "stroke": "white", "strokeWidth": 3.5, "strokeJoin": "round"}, "encoding": {"text": {"field": "t"}, "angle": {"field": "a", "type": "quantitative", "scale": null}}},
            {"data": {"name": "l"}, "transform": [{"filter": "datum.p == 'a4'"}], "mark": {"type": "text", "color": "black"}, "encoding": {"text": {"field": "t"}, "angle": {"field": "a", "type": "quantitative", "scale": null}}}
          ]
        }
      ]
    },
    {
      "bounds": "flush",
      "spacing": 49.5,
      "hconcat": [
        {
          "width": 102, "height": 103.5,
          "encoding": {
            "x": {"field": "x", "type": "quantitative", "scale": {"domain": [0, 1], "nice": false, "zero": false}, "axis": {"title": ["T\u0304\u2002=\u2002393K", "t\u2002=\u200216s"], "titleFontStyle": "italic", "titleLineHeight": 18, "titlePadding": 1.7}},
            "y": {"field": "y", "type": "quantitative", "scale": {"domain": [0, 1], "nice": false, "zero": false}, "axis": {"title": "Temperature (K)", "titleFontWeight": "bold", "titleFontSize": 15, "titlePadding": 17}}
          },
          "layer": [
            {"data": {"name": "c"}, "transform": [{"filter": "datum.p == 'b1'"}], "mark": {"type": "line", "interpolate": "cardinal", "clip": true}, "encoding": {"detail": {"field": "k"}, "order": {"field": "i", "type": "quantitative"}}},
            {"data": {"name": "l"}, "transform": [{"filter": "datum.p == 'b1'"}], "mark": {"type": "text", "fill": "white", "stroke": "white", "strokeWidth": 3.5, "strokeJoin": "round"}, "encoding": {"text": {"field": "t"}, "angle": {"field": "a", "type": "quantitative", "scale": null}}},
            {"data": {"name": "l"}, "transform": [{"filter": "datum.p == 'b1'"}], "mark": {"type": "text", "color": "black"}, "encoding": {"text": {"field": "t"}, "angle": {"field": "a", "type": "quantitative", "scale": null}}}
          ]
        },
        {
          "width": 102, "height": 103.5,
          "encoding": {
            "x": {"field": "x", "type": "quantitative", "scale": {"domain": [0, 1], "nice": false, "zero": false}, "axis": {"title": ["T\u0304\u2002=\u2002325.7K", "t\u2002=\u2002120s"], "titleFontStyle": "italic", "titleLineHeight": 18, "titlePadding": 1.7}},
            "y": {"field": "y", "type": "quantitative", "scale": {"domain": [0, 1], "nice": false, "zero": false}, "axis": null}
          },
          "layer": [
            {"data": {"name": "c"}, "transform": [{"filter": "datum.p == 'b2'"}], "mark": {"type": "line", "interpolate": "cardinal", "clip": true}, "encoding": {"detail": {"field": "k"}, "order": {"field": "i", "type": "quantitative"}}},
            {"data": {"name": "l"}, "transform": [{"filter": "datum.p == 'b2'"}], "mark": {"type": "text", "fill": "white", "stroke": "white", "strokeWidth": 3.5, "strokeJoin": "round"}, "encoding": {"text": {"field": "t"}, "angle": {"field": "a", "type": "quantitative", "scale": null}}},
            {"data": {"name": "l"}, "transform": [{"filter": "datum.p == 'b2'"}], "mark": {"type": "text", "color": "black"}, "encoding": {"text": {"field": "t"}, "angle": {"field": "a", "type": "quantitative", "scale": null}}}
          ]
        },
        {
          "width": 102, "height": 103.5,
          "encoding": {
            "x": {"field": "x", "type": "quantitative", "scale": {"domain": [0, 1], "nice": false, "zero": false}, "axis": {"title": ["T\u0304\u2002=\u2002393.8K", "t\u2002=\u200220s"], "titleFontStyle": "italic", "titleLineHeight": 18, "titlePadding": 1.7}},
            "y": {"field": "y", "type": "quantitative", "scale": {"domain": [0, 1], "nice": false, "zero": false}, "axis": null}
          },
          "layer": [
            {"data": {"name": "c"}, "transform": [{"filter": "datum.p == 'b3'"}], "mark": {"type": "line", "interpolate": "cardinal", "clip": true}, "encoding": {"detail": {"field": "k"}, "order": {"field": "i", "type": "quantitative"}}},
            {"data": {"name": "l"}, "transform": [{"filter": "datum.p == 'b3'"}], "mark": {"type": "text", "fill": "white", "stroke": "white", "strokeWidth": 3.5, "strokeJoin": "round"}, "encoding": {"text": {"field": "t"}, "angle": {"field": "a", "type": "quantitative", "scale": null}}},
            {"data": {"name": "l"}, "transform": [{"filter": "datum.p == 'b3'"}], "mark": {"type": "text", "color": "black"}, "encoding": {"text": {"field": "t"}, "angle": {"field": "a", "type": "quantitative", "scale": null}}}
          ]
        },
        {
          "width": 102, "height": 103.5,
          "encoding": {
            "x": {"field": "x", "type": "quantitative", "scale": {"domain": [0, 1], "nice": false, "zero": false}, "axis": {"title": ["T\u0304\u2002=\u2002347.7K", "t\u2002=\u2002120s"], "titleFontStyle": "italic", "titleLineHeight": 18, "titlePadding": 1.7}},
            "y": {"field": "y", "type": "quantitative", "scale": {"domain": [0, 1], "nice": false, "zero": false}, "axis": null}
          },
          "layer": [
            {"data": {"name": "c"}, "transform": [{"filter": "datum.p == 'b4'"}], "mark": {"type": "line", "interpolate": "cardinal", "clip": true}, "encoding": {"detail": {"field": "k"}, "order": {"field": "i", "type": "quantitative"}}},
            {"data": {"name": "l"}, "transform": [{"filter": "datum.p == 'b4'"}], "mark": {"type": "text", "fill": "white", "stroke": "white", "strokeWidth": 3.5, "strokeJoin": "round"}, "encoding": {"text": {"field": "t"}, "angle": {"field": "a", "type": "quantitative", "scale": null}}},
            {"data": {"name": "l"}, "transform": [{"filter": "datum.p == 'b4'"}], "mark": {"type": "text", "color": "black"}, "encoding": {"text": {"field": "t"}, "angle": {"field": "a", "type": "quantitative", "scale": null}}}
          ]
        }
      ]
    }
  ]
}
